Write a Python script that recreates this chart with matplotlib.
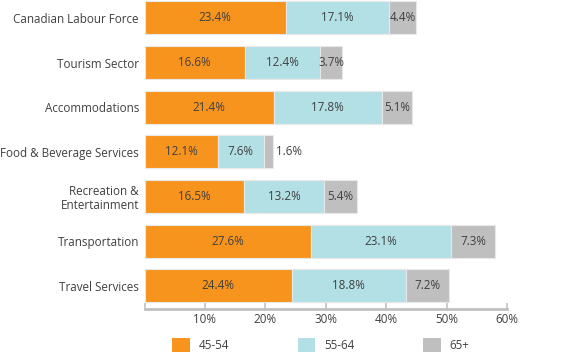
import matplotlib
matplotlib.use("Agg")
from matplotlib import pyplot as plt
from matplotlib.patches import Patch
import numpy as np

plt.rcParams['font.family'] = ['Open Sans', 'DejaVu Sans']

categories = ["Canadian Labour Force", "Tourism Sector", "Accommodations",
              "Food & Beverage Services", "Recreation &\nEntertainment",
              "Transportation", "Travel Services"]
age_45_54 = [23.4, 16.6, 21.4, 12.1, 16.5, 27.6, 24.4]
age_55_64 = [17.1, 12.4, 17.8, 7.6, 13.2, 23.1, 18.8]
age_65_plus = [4.4, 3.7, 5.1, 1.6, 5.4, 7.3, 7.2]
series_names = ["45-54", "55-64", "65+"]
colors = ["#F7941D", "#B3E0E5", "#BFBFBF"]
text_color = "#404040"
fs = 8.4

fig = plt.figure(figsize=(5.68, 3.53), dpi=100)
ax = fig.add_axes([144.5 / 568, 1 - 309 / 353, (507.3 - 144.5) / 568, 309 / 353])

y = np.arange(len(categories))
left = np.zeros(len(categories))
bar_h = 0.74
for vals, name, c in zip([age_45_54, age_55_64, age_65_plus], series_names, colors):
    vals = np.array(vals)
    ax.barh(y, vals, left=left, height=bar_h, color=c, edgecolor="#e8e8e8",
            linewidth=0.8, label=name)
    for yi, l, v in zip(y, left, vals):
        if v < 3:
            # too narrow, put label to the right
            ax.text(l + v + 0.5, yi, f"{v:.1f}%", ha="left", va="center",
                    fontsize=fs, color=text_color)
        else:
            ax.text(l + v / 2, yi, f"{v:.1f}%", ha="center", va="center",
                    fontsize=fs, color=text_color)
    left += vals

ax.set_xlim(0, 60)
ax.set_ylim(6.52, -0.4)
ax.set_yticks(y)
ax.set_yticklabels(categories, fontsize=fs, color=text_color, ha="right",
                   linespacing=1.1)
ax.tick_params(axis="y", length=0, pad=4)
ax.set_xticks([0, 10, 20, 30, 40, 50, 60])
ax.set_xticklabels(["", "10%", "20%", "30%", "40%", "50%", "60%"], fontsize=fs,
                   color=text_color)
ax.tick_params(axis="x", direction="in", length=4, width=1.2, color="#c0c0c0", pad=3)

for s in ["top", "right", "left"]:
    ax.spines[s].set_visible(False)
ax.spines["bottom"].set_color("#c0c0c0")
ax.spines["bottom"].set_linewidth(2)

handles = [Patch(facecolor=c, edgecolor="none") for c in colors]
fig.legend(handles, series_names, loc="lower left", bbox_to_anchor=(171 / 568, 0.0),
           ncol=3, frameon=False, fontsize=fs, handlelength=1.5, handleheight=1.5,
           handletextpad=0.75, columnspacing=5.9, labelcolor=text_color,
           borderaxespad=0, borderpad=0.1)

fig.savefig("out.png", dpi=100)
